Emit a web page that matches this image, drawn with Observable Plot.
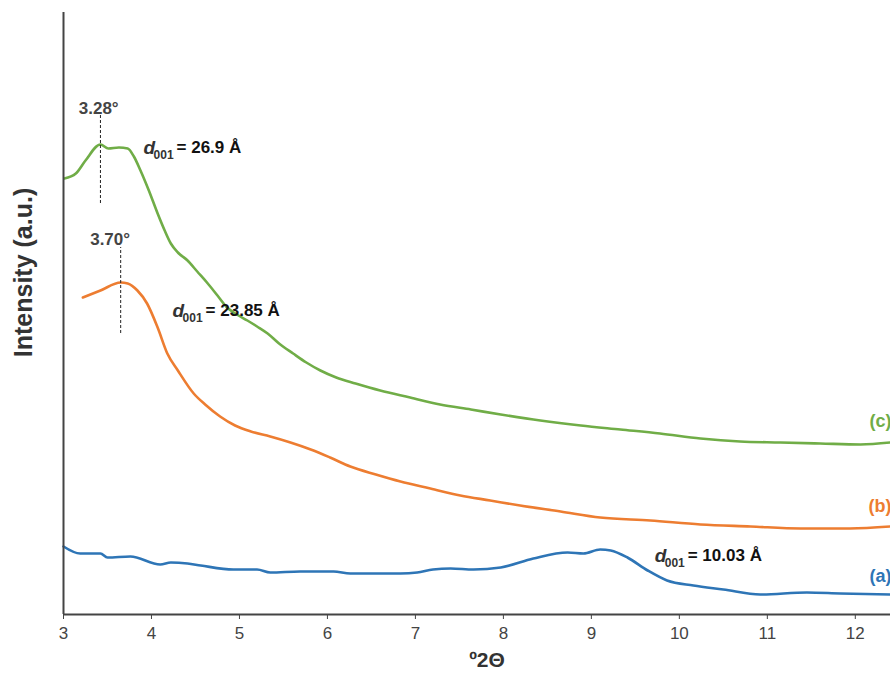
<!DOCTYPE html>
<html>
<head>
<meta charset="utf-8">
<script src="https://cdn.jsdelivr.net/npm/d3@7"></script>
<script src="https://cdn.jsdelivr.net/npm/@observablehq/plot@0.6"></script>
<style>
  html, body { margin: 0; padding: 0; background: #fff; overflow: hidden; }
  #chart svg { display: block; }
</style>
</head>
<body>
<div id="chart"></div>
<script>
// ----- data (°2θ vs intensity in arbitrary units) -----
const cX = [3.01,3.14,3.25,3.42,3.51,3.63,3.73,3.80,3.875,3.97,4.07,4.15,4.22,4.30,4.41,4.52,4.64,4.75,4.86,4.97,5.09,5.20,5.32,5.45,5.61,5.76,5.92,6.10,6.32,6.60,6.94,7.28,7.63,7.97,8.42,8.88,9.33,9.78,10.24,10.69,11.15,11.60,12.06,12.40];
const cY = [436,441,454,470,466,467,466,458,444,424,401,384,371,362,354,343,331,319,307,300,294,288,281,271,261,252,244,237,231,224,217,210,205,200,194,189,185,181,176,173,172,171,170,172];

const bX = [3.22,3.42,3.65,3.73,3.84,3.95,4.07,4.18,4.30,4.48,4.61,4.78,4.95,5.13,5.35,5.58,5.81,6.03,6.26,6.55,6.83,7.17,7.51,7.85,8.19,8.65,9.10,9.67,10.24,10.81,11.38,11.94,12.40];
const bY = [317,324,332,331,324,311,287,261,244,221,210,198,189,183,178,172,165,157,148,140,133,126,119,114,109,103,97,94,90,88,86,86,88];

const aX = [3.00,3.19,3.42,3.50,3.76,4.10,4.22,4.41,4.56,4.93,5.20,5.35,5.69,6.07,6.26,6.83,7.02,7.20,7.40,7.66,7.97,8.34,8.73,8.91,9.10,9.22,9.41,9.64,9.86,10.16,10.50,10.92,11.45,11.83,12.40];
const aY = [68,61,61,57,58,50,52,51,49,45,45,42,43,43,41,41,42,45,46,45,47,56,62,61,65,64,57,44,34,29,25,20,22,21,20];

const seriesNames = ["(a)", "(b)", "(c)"];
const seriesColors = ["#2e75b6", "#ed7d31", "#70ad47"];
const seriesLabelY = [38, 108, 193];

const xTicks = [3,4,5,6,7,8,9,10,11,12];

// peak markers
const peakText = ["3.28°", "3.70°"];
const peakTextX = [3.40, 3.53];
const peakTextY = [506, 375];
const peakLineX = [3.42, 3.65];
const peakLineY1 = [411, 281];
const peakLineY2 = [499, 367];

// d-spacing annotations
const dValues = ["= 26.9 Å", "= 23.85 Å", "= 10.03 Å"];
const dX = [3.91, 4.24, 9.72];
const dY = [467, 304, 59];

// ----- build tables -----
const lineData = [
  ...aX.map((x, i) => ({x, y: aY[i], s: "(a)"})),
  ...bX.map((x, i) => ({x, y: bY[i], s: "(b)"})),
  ...cX.map((x, i) => ({x, y: cY[i], s: "(c)"}))
];
const seriesLabels = seriesNames.map((s, i) => ({s, y: seriesLabelY[i], c: seriesColors[i]}));
const peaks = peakText.map((t, i) => ({t, tx: peakTextX[i], ty: peakTextY[i], lx: peakLineX[i], y1: peakLineY1[i], y2: peakLineY2[i]}));
const dAnn = dValues.map((v, i) => ({v, x: dX[i], y: dY[i]}));

const font = "Liberation Sans, Arial, Helvetica, sans-serif";

const chart = Plot.plot({
  width: 890,
  height: 675,
  marginLeft: 63,
  marginRight: 0,
  marginTop: 12,
  marginBottom: 61,
  style: {fontFamily: font, background: "#fff", overflow: "hidden"},
  x: {domain: [3, 12.4]},
  y: {domain: [0, 602]},
  color: {domain: seriesNames, range: seriesColors},
  marks: [
    Plot.line(lineData, {x: "x", y: "y", z: "s", stroke: "s", strokeWidth: 2.6, curve: "monotone-x"}),
    Plot.ruleX([3], {stroke: "#444", strokeWidth: 2}),
    Plot.ruleY([0], {stroke: "#444", strokeWidth: 2}),
    Plot.axisX({ticks: xTicks, tickSize: 5, tickPadding: 7, fontSize: 17, color: "#444", label: null, tickFormat: d => String(d)}),
    Plot.axisY({ticks: [], label: null, tickSize: 0}),
    // axis titles
    Plot.text(["Intensity (a.u.)"], {frameAnchor: "left", textAnchor: "middle", lineAnchor: "middle", dx: -40, dy: -41, rotate: -90, fontSize: 25, fontWeight: "bold", fill: "#333", text: d => d}),
    Plot.text(["º2Θ"], {frameAnchor: "bottom", textAnchor: "middle", lineAnchor: "middle", dx: 10, dy: 46, fontSize: 21, fontWeight: "bold", fill: "#333", text: d => d}),
    // peak markers
    Plot.ruleX(peaks, {x: "lx", y1: "y1", y2: "y2", stroke: "#222", strokeWidth: 1, strokeDasharray: "3,2"}),
    Plot.text(peaks, {x: "tx", y: "ty", text: "t", fontSize: 17, fontWeight: "bold", fill: "#444"}),
    // d-spacing annotations
    Plot.text(dAnn, {x: "x", y: "y", text: () => "d", textAnchor: "start", fontSize: 19, fontStyle: "italic", fontWeight: "bold", fill: "#333"}),
    Plot.text(dAnn, {x: "x", y: "y", text: () => "001", textAnchor: "start", dx: 10, dy: 8, fontSize: 12, fontWeight: "bold", fill: "#333"}),
    Plot.text(dAnn, {x: "x", y: "y", text: "v", textAnchor: "start", dx: 33, fontSize: 17, fontWeight: "bold", fill: "#111"}),
    // series labels
    Plot.text(seriesLabels, {x: 12.4, y: "y", text: "s", fill: "c", textAnchor: "end", dx: 1, fontSize: 18, fontWeight: "bold"})
  ]
});
document.getElementById("chart").appendChild(chart);
</script>
</body>
</html>
